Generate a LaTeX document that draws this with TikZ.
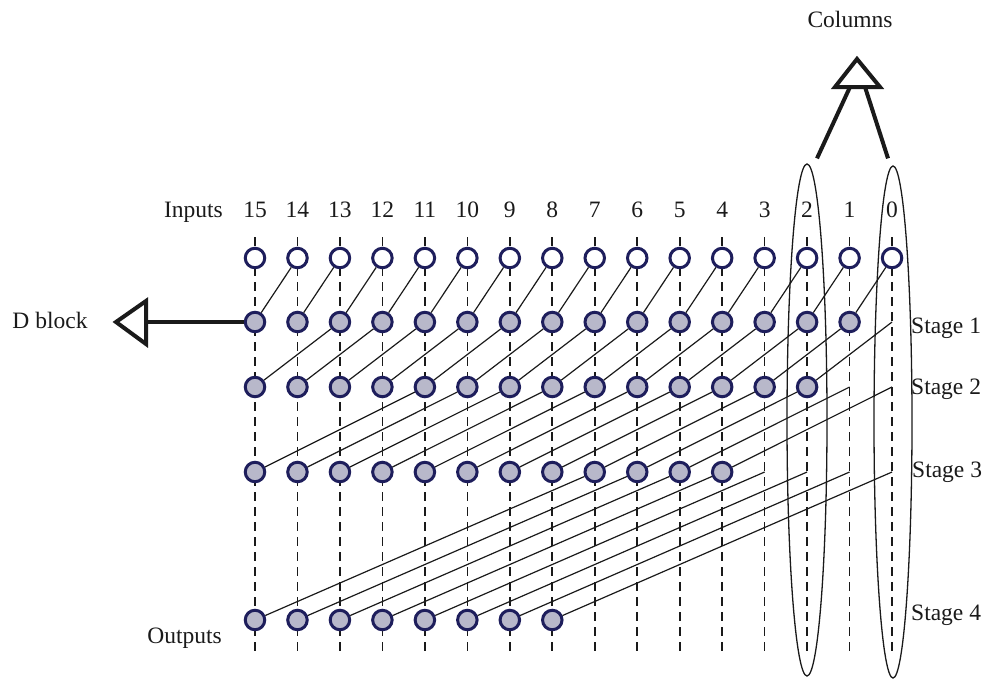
\documentclass[tikz,border=0pt]{standalone}
\usepackage{fontspec}
\setmainfont{Liberation Serif}
\usetikzlibrary{backgrounds,shapes.geometric}
\definecolor{ring}{HTML}{1E1E5C}
\definecolor{cell}{HTML}{B8B8CA}
\definecolor{ink}{HTML}{1A1A1A}

\begin{document}
\begin{tikzpicture}[x=1pt,y=-1pt,
  every node/.style={font=\fontsize{23.5}{26}\selectfont, text=ink},
  inbox/.style={circle, draw=ring, line width=3pt, fill=white,
                minimum size=19.5pt, inner sep=0pt},
  opbox/.style={inbox, fill=cell},
  wire/.style={ink, line width=1.2pt},
  rail/.style={ink, line width=1.6pt, dash pattern=on 9pt off 6pt},
  fat/.style={ink, line width=4pt, line join=miter},
  lbl/.style={inner sep=0pt},
  group/.style={ellipse, draw=ink, line width=1.3pt, inner sep=0pt,
                minimum width=40pt, minimum height=512pt}]
\useasboundingbox (0,0) rectangle (988,681);

% grid: column i sits at x = 255 + (15-i)*42.47
\foreach \i in {0,...,15}{
  \pgfmathsetmacro\x{255+(15-\i)*42.47}
  \coordinate (top\i) at (\x,237);
  \coordinate (bot\i) at (\x,655);
  \node[lbl, anchor=base] (num\i) at (\x,217) {\i};
  \node[inbox] (in\i) at (\x,258) {};
  \ifnum\i<1 \coordinate (s1-\i) at (\x,322); \else \node[opbox] (s1-\i) at (\x,322) {}; \fi
  \ifnum\i<2 \coordinate (s2-\i) at (\x,387); \else \node[opbox] (s2-\i) at (\x,387) {}; \fi
  \ifnum\i<4 \coordinate (s3-\i) at (\x,472); \else \node[opbox] (s3-\i) at (\x,472) {}; \fi
  \ifnum\i<8 \coordinate (s4-\i) at (\x,620); \else \node[opbox] (s4-\i) at (\x,620) {}; \fi
}

% dashed column rails behind the cells
\begin{pgfonlayer}{background}
  \foreach \i in {0,...,15}{ \draw[rail] (top\i) -- (bot\i); }
\end{pgfonlayer}

% prefix links: stage k pulls from 2^(k-1) columns to the right
\foreach \j in {0,...,14}{ \pgfmathtruncatemacro\k{\j+1} \draw[wire] (in\j) -- (s1-\k); }
\foreach \j in {0,...,13}{ \pgfmathtruncatemacro\k{\j+2} \draw[wire] (s1-\j) -- (s2-\k); }
\foreach \j in {0,...,11}{ \pgfmathtruncatemacro\k{\j+4} \draw[wire] (s2-\j) -- (s3-\k); }
\foreach \j in {0,...,7}{ \pgfmathtruncatemacro\k{\j+8} \draw[wire] (s3-\j) -- (s4-\k); }

% labels
\node[lbl, anchor=base east] (inlbl) at (223,217) {Inputs};
\node[lbl, anchor=base east] (outlbl) at (222,643) {Outputs};
\node[lbl, anchor=base west] (st1) at (911,333) {Stage 1};
\node[lbl, anchor=base west] (st2) at (911,394) {Stage 2};
\node[lbl, anchor=base west] (st3) at (912,477) {Stage 3};
\node[lbl, anchor=base west] (st4) at (911,620) {Stage 4};
\node[lbl, anchor=base] (collbl) at (850,27) {Columns};
\node[lbl, anchor=base] (dlbl) at (50,328) {D block};

% D block pointer
\coordinate (dtip) at (116,322);
\coordinate (dbase) at (146,322);
\draw[fat] (s1-15.west) -- (dbase);
\draw[fat] (146,301) -- (dtip) -- (146,344) -- cycle;

% highlighted columns and the pointer to their caption
\node[group] (grp2) at (807,420) {};
\node[group, minimum width=38pt] (grp0) at (893,422) {};
\coordinate (cl) at (850,87);
\coordinate (cr) at (865,87);
\draw[fat] (835,87) -- (857,59) -- (880,87) -- cycle;
\draw[fat] ([shift={(10,-5)}]grp2.north) -- (cl);
\draw[fat] ([shift={(-5,-7)}]grp0.north) -- (cr);
\end{tikzpicture}
\end{document}
